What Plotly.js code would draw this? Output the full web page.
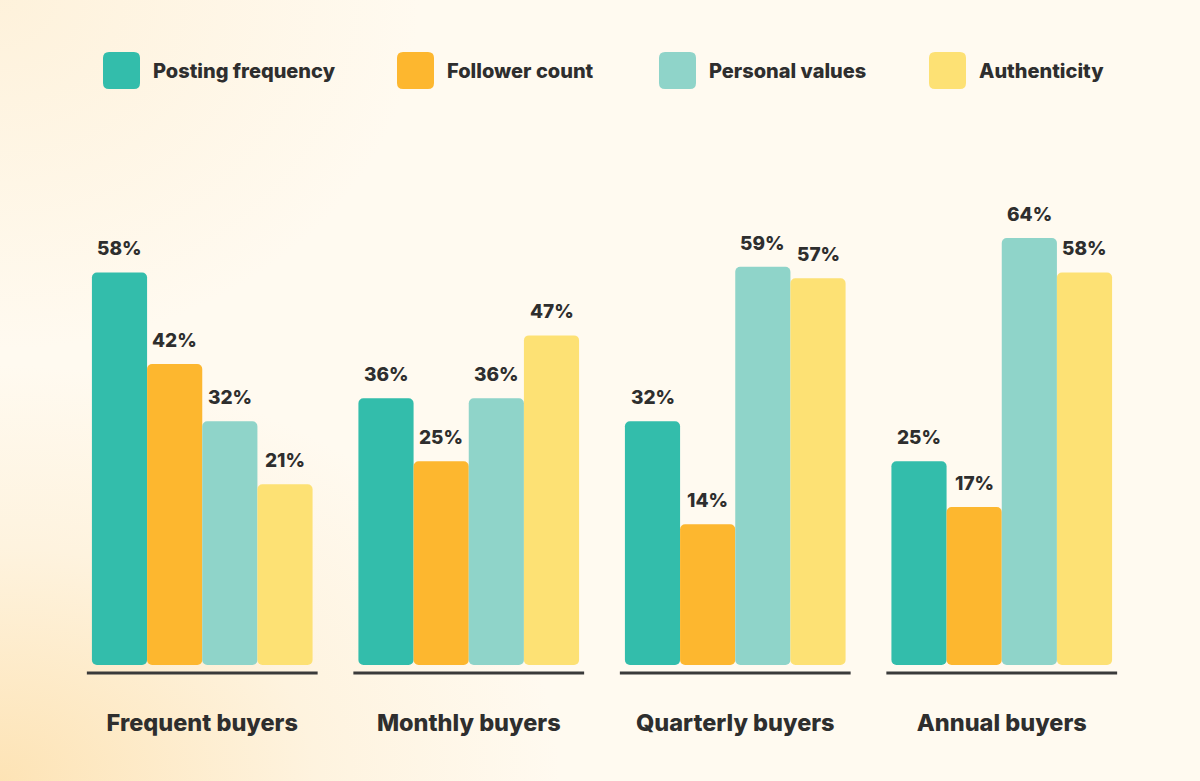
<!DOCTYPE html>
<html>
<head>
<meta charset="utf-8">
<script src="https://cdn.plot.ly/plotly-3.0.1.min.js"></script>
<style>
html,body{margin:0;padding:0;width:1200px;height:781px;overflow:hidden;}
body{background:
 radial-gradient(ellipse 700px 520px at 0% 100%, rgba(253,226,178,0.95) 0%, rgba(253,236,205,0.5) 45%, rgba(255,250,238,0) 80%),
 radial-gradient(ellipse 600px 500px at 0% 0%, rgba(253,236,205,0.6) 0%, rgba(255,250,238,0) 70%),
 #fffaf0;}
#chart{width:1200px;height:781px;}
</style>
</head>
<body>
<div id="chart"></div>
<script>
const categories = ["Frequent buyers", "Monthly buyers", "Quarterly buyers", "Annual buyers"];
const seriesNames = ["Posting frequency", "Follower count", "Personal values", "Authenticity"];
const postingFrequency = [58, 36, 32, 25];
const followerCount = [42, 25, 14, 17];
const personalValues = [32, 36, 59, 64];
const authenticity = [21, 47, 57, 58];
const colors = ["#33bdab", "#fdb72f", "#8fd4c9", "#fde174"];

const seriesValues = [postingFrequency, followerCount, personalValues, authenticity];
const BASE = -10.6;   // visual baseline of the drawing
const FONT = "Inter, 'Open Sans', sans-serif";
const TXT = "#2e2e2e";

const M = {l: 69, r: 65, t: 150, b: 116};
const W = 1200, H = 781;
const PW = W - M.l - M.r, PH = H - M.t - M.b;
const px2x = px => (px - M.l) / PW;
const py2y = py => (H - M.b - py) / PH;

const traces = seriesValues.map((vals, i) => ({
  type: "bar",
  name: seriesNames[i],
  x: categories,
  y: vals.map(v => v - BASE),
  base: BASE,
  marker: {color: colors[i], cornerradius: 5, line: {width: 0}},
  showlegend: false,
  hoverinfo: "skip"
}));

const bargap = 0.172;
const barW = (1 - bargap) / 4;

const annotations = [];
seriesValues.forEach((vals, si) => {
  vals.forEach((v, gi) => {
    annotations.push({
      x: gi + (si - 1.5) * barW, y: v, xref: "x", yref: "y",
      text: v + "%", showarrow: false, yanchor: "bottom", yshift: 10,
      font: {family: FONT, size: 19, color: TXT, weight: 800}
    });
  });
});

// rounded rectangle path in paper coordinates (given in pixels)
function roundRect(x0, y0, x1, y1, r) {
  const X = px2x, Y = py2y;
  return `M${X(x0 + r)},${Y(y0)} L${X(x1 - r)},${Y(y0)} Q${X(x1)},${Y(y0)} ${X(x1)},${Y(y0 + r)} ` +
         `L${X(x1)},${Y(y1 - r)} Q${X(x1)},${Y(y1)} ${X(x1 - r)},${Y(y1)} ` +
         `L${X(x0 + r)},${Y(y1)} Q${X(x0)},${Y(y1)} ${X(x0)},${Y(y1 - r)} ` +
         `L${X(x0)},${Y(y0 + r)} Q${X(x0)},${Y(y0)} ${X(x0 + r)},${Y(y0)} Z`;
}

// legend built from the series names and colours
const legendPx = [103, 397, 659, 929];
const shapes = [];
seriesNames.forEach((n, i) => {
  const x0 = legendPx[i];
  shapes.push({
    type: "path", xref: "paper", yref: "paper",
    path: roundRect(x0, 52, x0 + 37, 89, 6),
    fillcolor: colors[i], line: {width: 0}
  });
  annotations.push({
    x: px2x(x0 + 48), y: py2y(71), xref: "paper", yref: "paper",
    xanchor: "left", yanchor: "middle", showarrow: false,
    text: n, font: {family: FONT, size: 20, color: TXT, weight: 800}
  });
});

// group base lines
categories.forEach((c, gi) => {
  shapes.push({
    type: "line", xref: "x", yref: "paper",
    x0: gi - 0.433, x1: gi + 0.433, y0: py2y(673), y1: py2y(673),
    line: {color: "#3a3a3a", width: 3}
  });
});

const layout = {
  width: W, height: H,
  paper_bgcolor: "rgba(0,0,0,0)", plot_bgcolor: "rgba(0,0,0,0)",
  margin: M,
  barmode: "group", bargap: bargap, bargroupgap: 0,
  xaxis: {
    type: "category", range: [-0.5, 3.5],
    showgrid: false, zeroline: false, showline: false, ticks: "",
    ticklabelstandoff: 41,
    tickfont: {family: FONT, size: 23.5, color: TXT, weight: 800}
  },
  yaxis: {
    range: [BASE, 79.4], visible: false, showgrid: false, zeroline: false, fixedrange: true
  },
  annotations: annotations, shapes: shapes
};

Plotly.newPlot("chart", traces, layout, {displayModeBar: false, staticPlot: true});
</script>
</body>
</html>
